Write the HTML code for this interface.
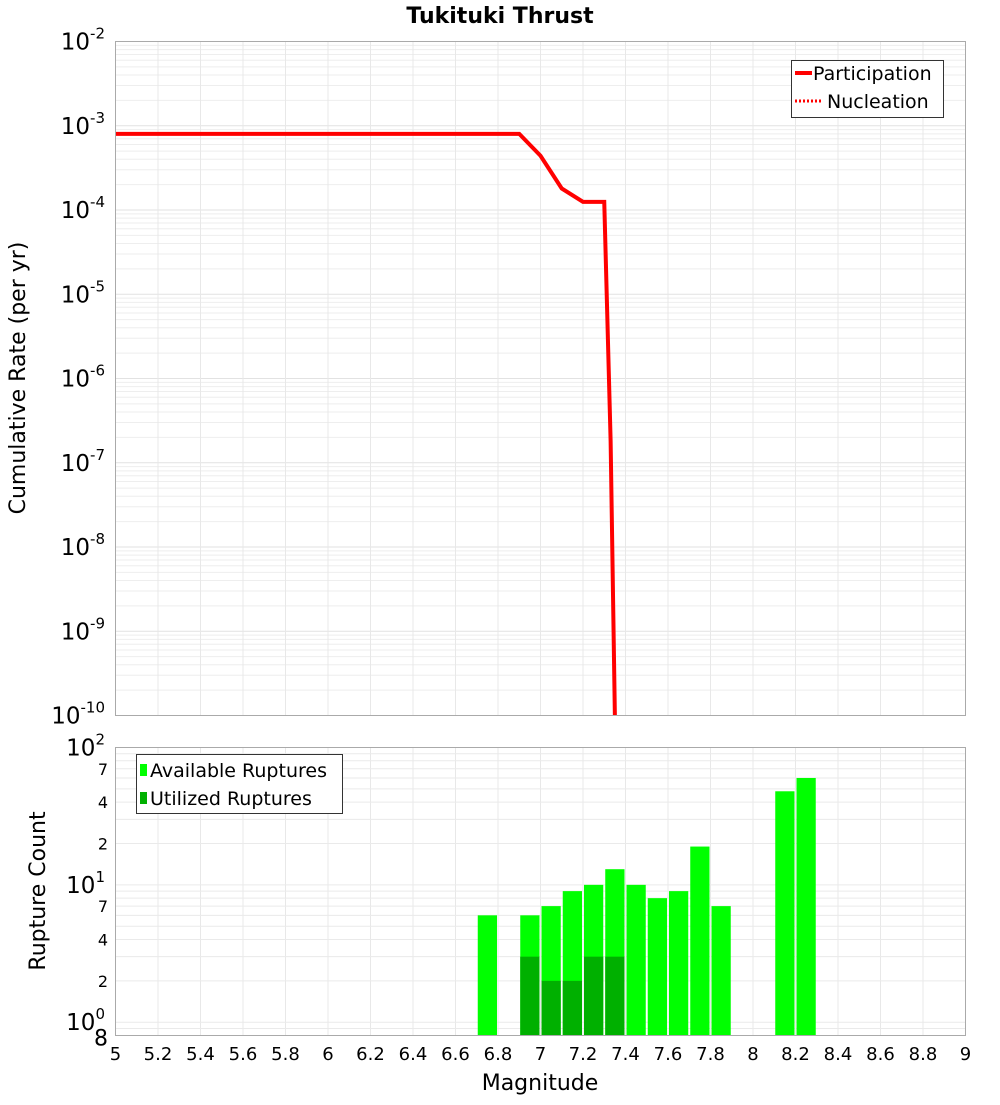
<!DOCTYPE html>
<html><head><meta charset="utf-8"><style>
body{margin:0;background:#fff;}
svg text{font-family:"DejaVu Sans","Liberation Sans",sans-serif;}
</style></head><body>
<svg id="c" width="1000" height="1100" viewBox="0 0 1000 1100" xmlns="http://www.w3.org/2000/svg">
<text x="500" y="23" text-anchor="middle" font-size="22" font-weight="bold">Tukituki Thrust</text>
<g id="topPlot"></g>
<g id="botPlot"></g>
</svg>
<script>
const rateMags=[5.0,5.5,6.0,6.5,6.9,7.0,7.1,7.2,7.3,7.33,7.35];
const partRates=[8.0e-4,8.0e-4,8.0e-4,8.0e-4,8.0e-4,4.4e-4,1.8e-4,1.25e-4,1.25e-4,1.8e-7,1e-10];
const nuclRates=[8.0e-4,8.0e-4,8.0e-4,8.0e-4,8.0e-4,4.4e-4,1.8e-4,1.25e-4,1.25e-4,1.8e-7,1e-10];
const binMags=[6.75,6.95,7.05,7.15,7.25,7.35,7.45,7.55,7.65,7.75,7.85,8.15,8.25];
const availCounts=[6,6,7,9,10,13,10,8,9,19,7,48,60];
const usedCounts=[0,3,2,2,3,3,0,0,0,0,0,0,0];
const xTicks=[5,5.2,5.4,5.6,5.8,6,6.2,6.4,6.6,6.8,7,7.2,7.4,7.6,7.8,8,8.2,8.4,8.6,8.8,9];
const topExps=[-2,-3,-4,-5,-6,-7,-8,-9,-10];

const NS="http://www.w3.org/2000/svg";
function mk(parent,tag,attrs,txt){const e=document.createElementNS(NS,tag);for(const k in attrs)e.setAttribute(k,attrs[k]);if(txt!==undefined)e.textContent=txt;parent.appendChild(e);return e;}
const L=115.5,R=965.5;
const X=m=>L+(m-5)/4*(R-L);
const T0=41.5,T1=715.5;
const YT=v=>T0+(-2-Math.log10(v))/8*(T1-T0);
const B0=747.5,B1=1035.5;
const YB=v=>B0+(2-Math.log10(v))/(2-Math.log10(0.8))*(B1-B0);

const topG=document.getElementById('topPlot');
const botG=document.getElementById('botPlot');
for(let e=-10;e<-2;e++){for(let k=1;k<10;k++){const v=k*Math.pow(10,e);const y=YT(v);if(y<T0||y>T1)continue;
const g=mk(topG,'line',{x1:L,x2:R,y1:y,y2:y,stroke:k==1?'#e2e2e2':'#eeeeee','stroke-width':1});

}}
xTicks.forEach(t=>{const x=X(t);
const g=mk(topG,'line',{x1:x,x2:x,y1:T0,y2:T1,stroke:'#e8e8e8'});


const g2=mk(botG,'line',{x1:x,x2:x,y1:B0,y2:B1,stroke:'#e8e8e8'});

});
topExps.forEach(e=>{const y=YT(Math.pow(10,e));
const t=mk(topG,'text',{x:105,y:y+8,'text-anchor':'end','font-size':23});


mk(t,'tspan',{},'10');mk(t,'tspan',{dy:-11,'font-size':15},String(e));});
const yt=mk(topG,'text',{x:0,y:0,'text-anchor':'middle','font-size':22,transform:'translate(25,378) rotate(-90)'},'Cumulative Rate (per yr)');


const defs=mk(topG,'defs',{});const cp=mk(defs,'clipPath',{id:'cpt'});mk(cp,'rect',{x:L,y:T0,width:R-L,height:T1-T0});
const pts=(rs)=>rateMags.map((m,i)=>X(m)+','+YT(rs[i])).join(' ');
const p1=mk(topG,'polyline',{points:pts(partRates),fill:'none',stroke:'#ff0000','stroke-width':4,'clip-path':'url(#cpt)'});


const p2=mk(topG,'polyline',{points:pts(nuclRates),fill:'none',stroke:'#ff0000','stroke-width':3,'stroke-dasharray':'2,2','clip-path':'url(#cpt)'});


const fr=mk(topG,'rect',{x:L,y:T0,width:R-L,height:T1-T0,fill:'none',stroke:'#aaaaaa'});


const lg=mk(topG,'g',{});


mk(lg,'rect',{x:791.5,y:60.5,width:152,height:57,fill:'#fff',stroke:'#333'});
mk(lg,'line',{x1:795,x2:812,y1:73,y2:73,stroke:'#f00','stroke-width':4});
mk(lg,'text',{x:813,y:80,'font-size':19},'Participation');
mk(lg,'line',{x1:795,x2:822,y1:101,y2:101,stroke:'#f00','stroke-width':3,'stroke-dasharray':'2,2'});
mk(lg,'text',{x:827,y:108,'font-size':19},'Nucleation');

for(let e=-1;e<2;e++){for(let k=1;k<10;k++){const v=k*Math.pow(10,e);const y=YB(v);if(y<B0-0.1||y>B1)continue;
const g=mk(botG,'line',{x1:L,x2:R,y1:y,y2:y,stroke:'#eaeaea'});

}}
binMags.forEach((m,i)=>{const x0=X(m-0.05)+1,x1=X(m+0.05)-1;
const r=mk(botG,'rect',{x:x0,y:YB(availCounts[i]),width:x1-x0,height:B1-YB(availCounts[i]),fill:'#00ff00'});


if(usedCounts[i]>0){const u=mk(botG,'rect',{x:x0,y:YB(usedCounts[i]),width:x1-x0,height:B1-YB(usedCounts[i]),fill:'#00b000'});

}});
const fb=mk(botG,'rect',{x:L,y:B0,width:R-L,height:B1-B0,fill:'none',stroke:'#aaaaaa'});


[[100,'2'],[10,'1'],[1,'0']].forEach(([v,e])=>{const y=YB(v);
const t=mk(botG,'text',{x:105,y:y+8,'text-anchor':'end','font-size':23});


mk(t,'tspan',{},'10');mk(t,'tspan',{dy:-11,'font-size':15},e);});
[[70,'7'],[40,'4'],[20,'2'],[7,'7'],[4,'4'],[2,'2'],[0.8,'8']].forEach(([v,s])=>{
const t=mk(botG,'text',{x:108,y:YB(v)+(v==0.8?10:6),'text-anchor':'end','font-size':v==0.8?22:16},s);

});
const yb=mk(botG,'text',{x:0,y:0,'text-anchor':'middle','font-size':22,transform:'translate(45,891) rotate(-90)'},'Rupture Count');


xTicks.forEach(t=>{const l=mk(botG,'text',{x:X(t),y:1060,'text-anchor':'middle','font-size':18},String(t));

});
const xt=mk(botG,'text',{x:540,y:1090,'text-anchor':'middle','font-size':22},'Magnitude');


const lb=mk(botG,'g',{});


mk(lb,'rect',{x:136.5,y:754.5,width:206,height:59,fill:'#fff',stroke:'#333'});
mk(lb,'rect',{x:140,y:764,width:7,height:12,fill:'#00ff00'});
mk(lb,'text',{x:150,y:777,'font-size':19},'Available Ruptures');
mk(lb,'rect',{x:140,y:792,width:7,height:12,fill:'#00b000'});
mk(lb,'text',{x:150,y:805,'font-size':19},'Utilized Ruptures');
</script>
</body></html>
